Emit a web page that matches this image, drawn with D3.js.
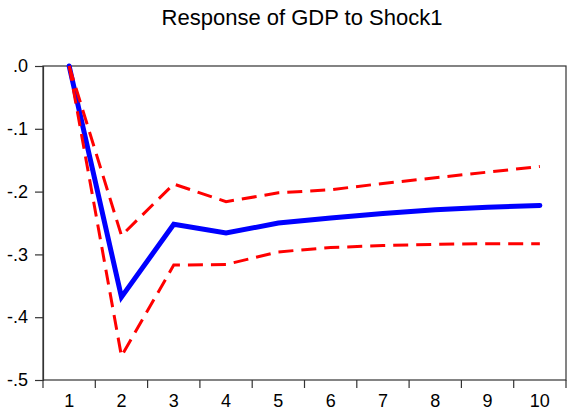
<!DOCTYPE html>
<html><head><meta charset="utf-8">
<script src="https://cdn.jsdelivr.net/npm/d3@7"></script>
<style>body{margin:0;background:#fff;}svg{display:block;font-family:"Liberation Sans",Arial,sans-serif;}</style>
</head><body>
<svg id="c" width="567" height="410"></svg>
<script>
const periods = ["1","2","3","4","5","6","7","8","9","10"];
const response = [0, -0.368, -0.252, -0.266, -0.250, -0.242, -0.235, -0.229, -0.225, -0.222];
const upperBand = [0, -0.270, -0.188, -0.216, -0.202, -0.197, -0.187, -0.178, -0.169, -0.160];
const lowerBand = [0, -0.462, -0.317, -0.316, -0.296, -0.289, -0.286, -0.284, -0.283, -0.283];
const yTicks = [0, -0.1, -0.2, -0.3, -0.4, -0.5];
const yTickLabels = [".0", "-.1", "-.2", "-.3", "-.4", "-.5"];
const title = "Response of GDP to Shock1";

const svg = d3.select("#c");
const L = 43, R = 566, T = 66, B = 380;
const x = d3.scaleBand().domain(periods).range([L, R]);
const y = d3.scaleLinear().domain([-0.5, 0]).range([B, T]);
const cx = i => x(periods[i]) + x.bandwidth() / 2;
const FONT = "Liberation Sans, Arial, sans-serif";

svg.append("text").attr("x", 302).attr("y", 25).attr("text-anchor", "middle")
  .attr("font-size", 22).attr("font-family", FONT).attr("fill", "#000").text(title);

// frame
svg.append("rect").attr("x", L).attr("y", T).attr("width", R - L).attr("height", B - T)
  .attr("fill", "none").attr("stroke", "#333").attr("stroke-width", 1.2);

// y axis
const yAxis = d3.axisLeft(y).tickValues(yTicks).tickSize(8).tickPadding(7)
  .tickFormat((d, i) => yTickLabels[i]);
const gy = svg.append("g").attr("transform", `translate(${L},0)`).call(yAxis);
gy.attr("font-size", 18).attr("font-family", FONT);
gy.select(".domain").attr("stroke", "#333").attr("stroke-width", 1.2);
gy.selectAll(".tick line").attr("stroke", "#333").attr("stroke-width", 1.2);
gy.selectAll(".tick text").attr("fill", "#000");

// x axis: ticks at band boundaries, labels at centers
const gx = svg.append("g").attr("transform", `translate(0,${B})`);
const bounds = periods.map(p => x(p)).concat([R]);
gx.selectAll("line.b").data(bounds).join("line").attr("class", "b")
  .attr("x1", d => d).attr("x2", d => d).attr("y1", 0).attr("y2", 8)
  .attr("stroke", "#333").attr("stroke-width", 1.2);
gx.selectAll("text").data(periods).join("text")
  .attr("x", d => x(d) + x.bandwidth() / 2).attr("y", 27)
  .attr("text-anchor", "middle").attr("font-size", 18).attr("font-family", FONT)
  .attr("fill", "#000").text(d => d);

const line = d3.line().x((d, i) => cx(i)).y(d => y(d));

svg.append("path").datum(response).attr("d", line).attr("fill", "none")
  .attr("stroke", "#0000ff").attr("stroke-width", 5).attr("stroke-linejoin", "miter").attr("stroke-linecap", "round");
[upperBand, lowerBand].forEach(s => {
  svg.append("path").datum(s).attr("d", line).attr("fill", "none")
    .attr("stroke", "#ff0000").attr("stroke-width", 3).attr("stroke-dasharray", "15,8");
});
</script>
</body></html>
